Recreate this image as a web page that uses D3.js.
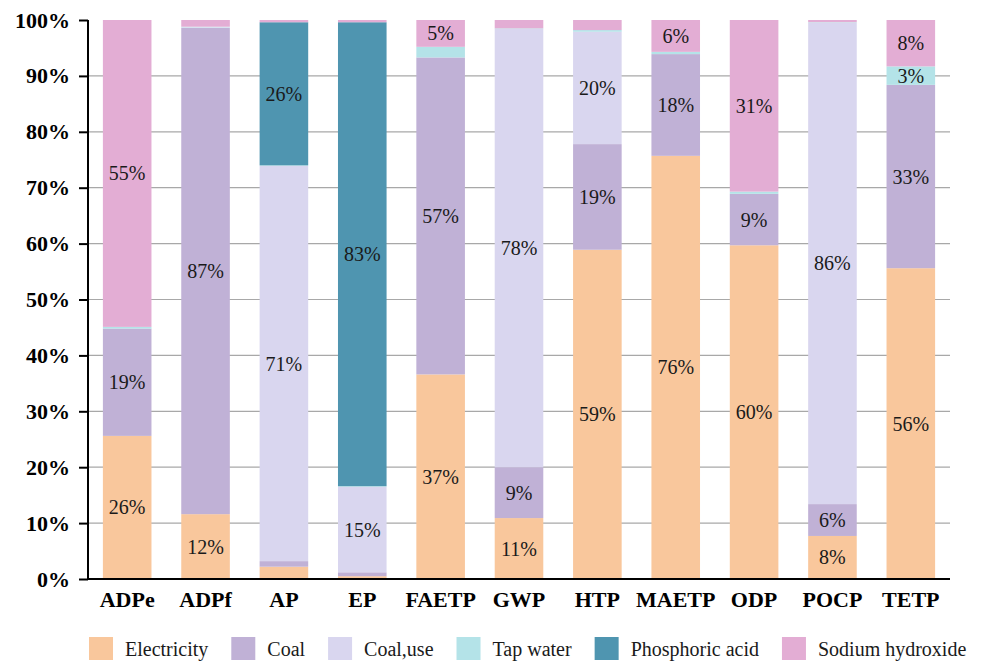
<!DOCTYPE html>
<html>
<head>
<meta charset="utf-8">
<script src="https://cdn.jsdelivr.net/npm/d3@7"></script>
<style>
  html, body { margin: 0; padding: 0; background: #fff; }
  svg { display: block; }
  svg text { font-family: "Liberation Serif", "Tinos", "Times New Roman", "DejaVu Serif", serif; }
</style>
</head>
<body>
<svg id="chart" width="988" height="664"></svg>
<script>
// Impact categories on the x axis
const categories = ["ADPe", "ADPf", "AP", "EP", "FAETP", "GWP", "HTP", "MAETP", "ODP", "POCP", "TETP"];

// Contribution (%) of each input to each impact category
const electricity     = [25.6, 11.6, 2.2, 0.5, 36.6, 10.9, 58.9, 75.7, 59.7, 7.7, 55.6];
const coal            = [19.2, 87.0, 1.0, 0.7, 56.7, 9.1, 18.9, 18.2, 9.2, 5.7, 32.8];
const coalUse         = [0, 0.1, 70.7, 15.3, 0, 78.4, 20.1, 0, 0, 86.1, 0];
const tapWater        = [0.3, 0.1, 0.1, 0.1, 1.9, 0.1, 0.3, 0.4, 0.4, 0.1, 3.3];
const phosphoricAcid  = [0, 0, 25.6, 83.0, 0, 0, 0, 0, 0, 0, 0];
const sodiumHydroxide = [54.9, 1.2, 0.4, 0.4, 4.8, 1.5, 1.8, 5.7, 30.7, 0.4, 8.3];

const seriesNames = ["Electricity", "Coal", "Coal,use", "Tap water", "Phosphoric acid", "Sodium hydroxide"];
const seriesValues = [electricity, coal, coalUse, tapWater, phosphoricAcid, sodiumHydroxide];
const seriesColors = ["#F9C79C", "#C0B1D6", "#D9D6EF", "#B4E3E8", "#4F95B0", "#E3ADD4"];

const yTicks = [0, 10, 20, 30, 40, 50, 60, 70, 80, 90, 100];

// Build a row-per-category table for d3.stack
const table = categories.map((c, i) => {
  const row = { category: c };
  seriesNames.forEach((s, k) => { row[s] = seriesValues[k][i]; });
  return row;
});

const svg = d3.select("#chart");
const plotLeft = 88, plotRight = 950, plotTop = 20, plotBottom = 579;

const x = d3.scaleBand()
  .domain(categories)
  .range([plotLeft, plotRight])
  .paddingInner(0.38)
  .paddingOuter(0.19);

const y = d3.scaleLinear().domain([0, 100]).range([plotBottom, plotTop]);

const color = d3.scaleOrdinal().domain(seriesNames).range(seriesColors);

// Horizontal gridlines behind the bars
svg.append("g")
  .selectAll("line")
  .data(yTicks.filter(t => t > 0 && t < 100))
  .join("line")
  .attr("x1", plotLeft).attr("x2", plotRight)
  .attr("y1", d => y(d)).attr("y2", d => y(d))
  .attr("stroke", "#a8a8a8")
  .attr("stroke-width", 1.2);

// Stacked bars
const stacked = d3.stack().keys(seriesNames)(table);

const layers = svg.append("g")
  .selectAll("g")
  .data(stacked)
  .join("g")
  .attr("fill", d => color(d.key));

layers.selectAll("rect")
  .data(d => d)
  .join("rect")
  .attr("x", d => x(d.data.category))
  .attr("width", x.bandwidth())
  .attr("y", d => y(d[1]))
  .attr("height", d => y(d[0]) - y(d[1]));

// Percentage labels for segments large enough to hold text
const fmt = d3.format(".0f");
const labelData = [];
stacked.forEach(layer => {
  layer.forEach(d => {
    const v = d[1] - d[0];
    if (v >= 2.5) labelData.push({ cat: d.data.category, mid: (d[0] + d[1]) / 2, v });
  });
});

svg.append("g")
  .selectAll("text")
  .data(labelData)
  .join("text")
  .attr("x", d => x(d.cat) + x.bandwidth() / 2)
  .attr("y", d => y(d.mid))
  .attr("dy", "0.35em")
  .attr("text-anchor", "middle")
  .attr("font-size", 20)
  .attr("fill", "#1a1a1a")
  .text(d => fmt(d.v) + "%");

// Y axis
const yAxis = svg.append("g")
  .attr("transform", `translate(${plotLeft},0)`)
  .call(d3.axisLeft(y).tickValues(yTicks).tickSize(9).tickPadding(9).tickFormat(d => d + "%"));
yAxis.select(".domain").attr("stroke", "#000").attr("stroke-width", 2).attr("d", `M0,${plotTop}V${plotBottom}`);
yAxis.selectAll(".tick line").attr("stroke", "#000").attr("stroke-width", 2);
yAxis.selectAll(".tick text")
  .attr("font-size", 22)
  .attr("font-weight", "bold")
  .attr("fill", "#000");

// X axis
const xAxis = svg.append("g")
  .attr("transform", `translate(0,${plotBottom})`)
  .call(d3.axisBottom(x).tickSize(0).tickPadding(12));
xAxis.select(".domain").attr("stroke", "#000").attr("stroke-width", 2.2).attr("d", `M${plotLeft},0H${plotRight}`);
xAxis.selectAll(".tick text")
  .attr("font-size", 22)
  .attr("font-weight", "bold")
  .attr("fill", "#000");

// Legend along the bottom
const legend = svg.append("g").attr("transform", "translate(89,637)");
let lx = 0;
seriesNames.forEach((name, i) => {
  const g = legend.append("g").attr("transform", `translate(${lx},0)`);
  g.append("rect").attr("width", 24).attr("height", 23).attr("fill", seriesColors[i]);
  const t = g.append("text")
    .attr("x", 36).attr("y", 11.5).attr("dy", "0.35em")
    .attr("font-size", 20).attr("fill", "#1a1a1a")
    .text(name);
  lx += 36 + t.node().getComputedTextLength() + 23;
});
</script>
</body>
</html>
